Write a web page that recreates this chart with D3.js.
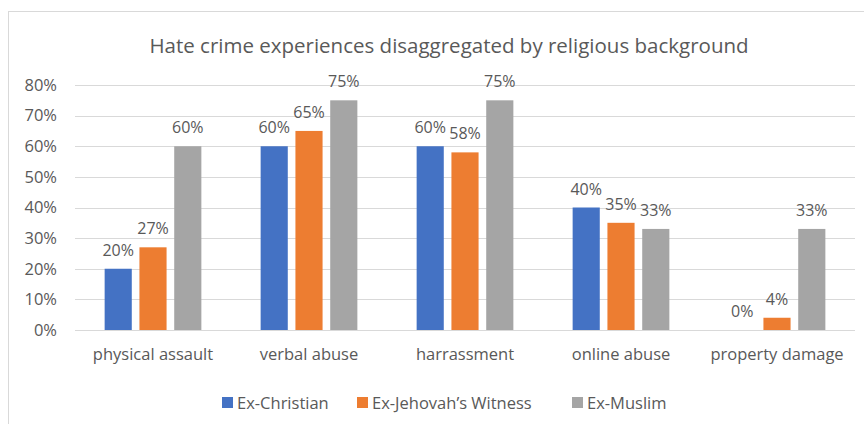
<!DOCTYPE html>
<html>
<head>
<meta charset="utf-8">
<script src="https://cdn.jsdelivr.net/npm/d3@7"></script>
<style>
  body { margin: 0; background: #fff; }
  text { font-family: "Open Sans", sans-serif; fill: #595959; }
</style>
</head>
<body>
<div id="chart"></div>
<script>
// data
const categories = ["physical assault", "verbal abuse", "harrassment", "online abuse", "property damage"];
const seriesNames = ["Ex-Christian", "Ex-Jehovah\u2019s Witness", "Ex-Muslim"];
const exChristian = [20, 60, 60, 40, 0];
const exJehovah = [27, 65, 58, 35, 4];
const exMuslim = [60, 75, 75, 33, 33];
const yTicks = [0, 10, 20, 30, 40, 50, 60, 70, 80];
const colors = ["#4472C4", "#ED7D31", "#A5A5A5"];

const canvW = 864, canvH = 424;
const margin = {top: 85, right: 9, bottom: 94, left: 75};
const width = canvW - margin.left - margin.right;
const height = canvH - margin.top - margin.bottom;

const svg = d3.select("#chart")
    .append("svg")
    .attr("width", canvW)
    .attr("height", canvH);

// chart border
svg.append("rect")
    .attr("x", 8.5).attr("y", 11.5)
    .attr("width", 870).attr("height", 430)
    .attr("fill", "none")
    .attr("stroke", "#d9d9d9");

svg.append("text")
    .attr("x", 449)
    .attr("y", 53)
    .style("text-anchor", "middle")
    .style("font-size", "20.5px")
    .text("Hate crime experiences disaggregated by religious background");

const g = svg.append("g")
    .attr("transform", `translate(${margin.left},${margin.top})`);

const x0 = d3.scaleBand()
    .domain(categories)
    .range([0, width])
    .paddingInner(0.38)
    .paddingOuter(0.19);

const x1 = d3.scaleBand()
    .domain(d3.range(seriesNames.length))
    .range([0, x0.bandwidth()])
    .paddingInner(0.22);

const y = d3.scaleLinear()
    .domain([0, 80])
    .range([height, 0]);

// gridlines
g.selectAll(".grid")
    .data(yTicks)
    .join("line")
    .attr("class", "grid")
    .attr("x1", 0).attr("x2", width)
    .attr("y1", d => Math.round(y(d)) + 0.5)
    .attr("y2", d => Math.round(y(d)) + 0.5)
    .attr("stroke", "#d9d9d9");

// y labels
g.selectAll(".ylab")
    .data(yTicks)
    .join("text")
    .attr("class", "ylab")
    .attr("x", -18)
    .attr("y", d => y(d))
    .attr("dy", "0.35em")
    .style("text-anchor", "end")
    .style("font-size", "16.5px")
    .text(d => d + "%");

// x labels
g.selectAll(".xlab")
    .data(categories)
    .join("text")
    .attr("class", "xlab")
    .attr("x", d => x0(d) + x0.bandwidth() / 2)
    .attr("y", height + 30)
    .style("text-anchor", "middle")
    .style("font-size", "16.5px")
    .text(d => d);

const series = [exChristian, exJehovah, exMuslim];
const rows = [];
series.forEach((vals, s) => {
    vals.forEach((v, i) => rows.push({cat: categories[i], s: s, value: v}));
});

g.selectAll(".bar")
    .data(rows)
    .join("rect")
    .attr("class", "bar")
    .attr("x", d => x0(d.cat) + x1(d.s))
    .attr("width", x1.bandwidth())
    .attr("y", d => y(d.value))
    .attr("height", d => height - y(d.value))
    .attr("fill", d => colors[d.s]);

// value labels above the bars
g.selectAll(".vlab")
    .data(rows)
    .join("text")
    .attr("class", "vlab")
    .attr("x", d => x0(d.cat) + x1(d.s) + x1.bandwidth() / 2)
    .attr("y", d => y(d.value) - 13)
    .style("text-anchor", "middle")
    .style("font-size", "16px")
    .text(d => d.value + "%");

// legend
const legendX = [222, 357, 572];
const legend = svg.selectAll(".legend")
    .data(seriesNames)
    .join("g")
    .attr("class", "legend")
    .attr("transform", (d, i) => `translate(${legendX[i]},397)`);

legend.append("rect")
    .attr("width", 11).attr("height", 11)
    .attr("fill", (d, i) => colors[i]);

legend.append("text")
    .attr("x", 15)
    .attr("y", 6)
    .attr("dy", "0.35em")
    .style("font-size", "16.5px")
    .text(d => d);
</script>
</body>
</html>
